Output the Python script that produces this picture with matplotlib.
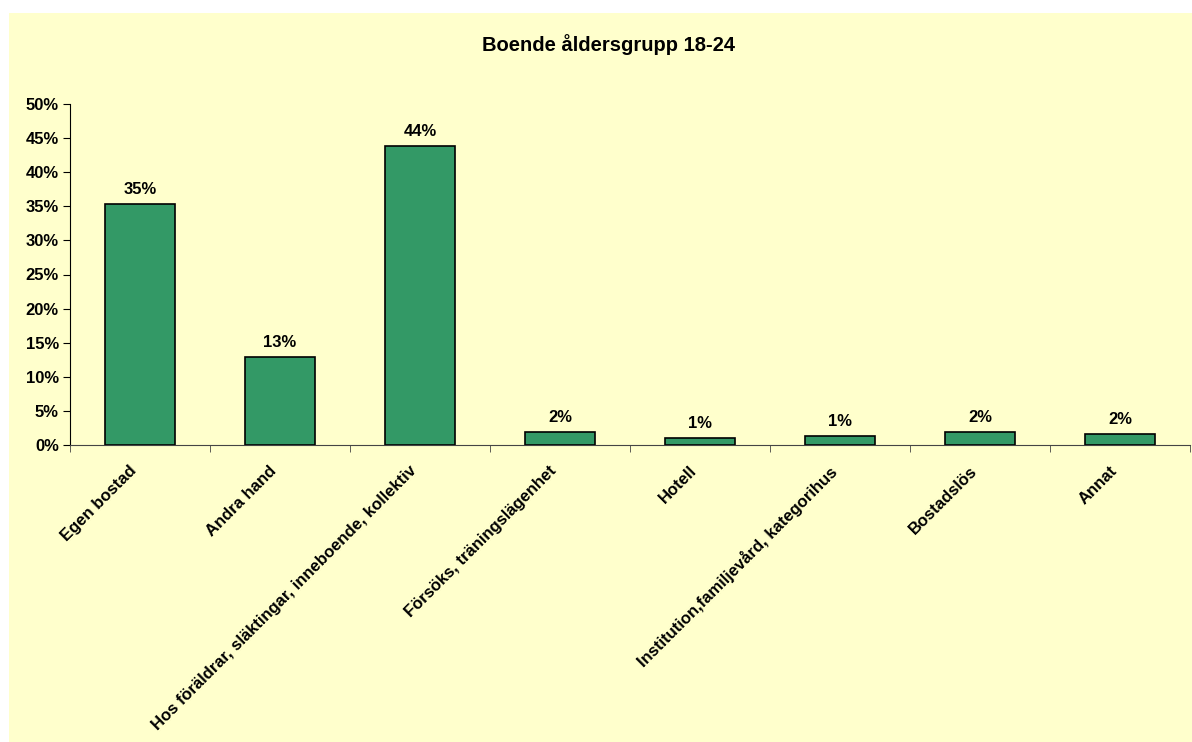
import matplotlib.pyplot as plt
import matplotlib.patches as mpatches
import matplotlib.transforms as mtransforms
import numpy as np
from matplotlib.ticker import FuncFormatter

plt.rcParams['font.family'] = ['Liberation Sans', 'DejaVu Sans']

kategorier = ["Egen bostad", "Andra hand", "Hos föräldrar, släktingar, inneboende, kollektiv",
              "Försöks, träningslägenhet", "Hotell", "Institution,familjevård, kategorihus",
              "Bostadslös", "Annat"]
andel = [35.3, 12.9, 43.8, 1.95, 1.0, 1.3, 1.95, 1.6]
etiketter = ["35%", "13%", "44%", "2%", "1%", "1%", "2%", "2%"]

fig = plt.figure(figsize=(11.92, 7.42), dpi=100, facecolor='white')
# gul bakgrund
fig.patches.append(mpatches.Rectangle((9/1192, 0), 1, 1 - 13/742, transform=fig.transFigure,
                                      facecolor='#FFFFCC', edgecolor='none', zorder=-10))

ax = fig.add_axes([70/1192, 1 - 445/742, 1120/1192, 341/742])
ax.set_facecolor('none')
ax.set_zorder(5)

x = np.arange(len(kategorier))
bars = ax.bar(x, andel, width=0.5, color='#339966', edgecolor='black', linewidth=1.2)

for bar, txt in zip(bars, etiketter):
    ax.annotate(txt, (bar.get_x() + bar.get_width()/2, bar.get_height()),
                xytext=(0, 5), textcoords='offset points', ha='center', va='bottom',
                fontsize=12, fontweight='bold')

ax.set_xlim(-0.5, len(kategorier) - 0.5)
ax.set_ylim(0, 50)
ax.set_yticks(range(0, 51, 5))
ax.yaxis.set_major_formatter(FuncFormatter(lambda v, p: f'{v:.0f}%'))
ax.set_xticks(x)
ax.set_xticklabels(kategorier, rotation=45, ha='right', rotation_mode='anchor',
                   fontsize=12, fontweight='bold')
ax.set_xticks(np.arange(len(kategorier) + 1) - 0.5, minor=True)
ax.tick_params(axis='x', which='major', length=0, pad=13)
ax.tick_params(axis='x', which='minor', length=5, direction='out', color='#444444')
ax.tick_params(axis='y', length=5, direction='out', labelsize=12, pad=3)
for lab in ax.get_yticklabels():
    lab.set_fontweight('bold')

# flytta etiketterna lite åt vänster som i originalet
skift = mtransforms.ScaledTranslation(-0.11, 0, fig.dpi_scale_trans)
for lab in ax.get_xticklabels():
    lab.set_transform(lab.get_transform() + skift)

ax.spines['top'].set_visible(False)
ax.spines['right'].set_visible(False)
ax.spines['bottom'].set_color('#444444')
ax.spines['left'].set_color('black')

fig.text(608/1192, 1 - 45/742, "Boende åldersgrupp 18-24", ha='center', va='center',
         fontsize=14.5, fontweight='bold')

fig.savefig('out.png', dpi=100, facecolor=fig.get_facecolor())
